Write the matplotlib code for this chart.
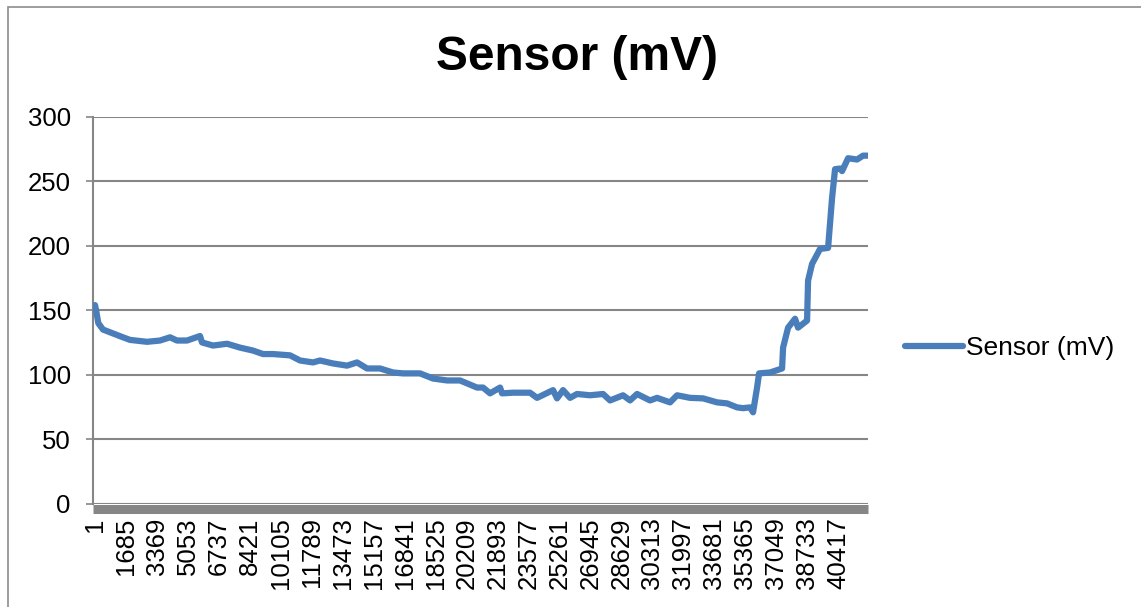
import numpy as np
import matplotlib
matplotlib.use("Agg")
import matplotlib.pyplot as plt
from matplotlib.patches import Rectangle

plt.rcParams['font.family'] = ['Liberation Sans', 'DejaVu Sans']

# sample index (category number) and sensor reading in mV
sample = [1, 60, 180, 436, 980, 1524, 1905, 2830, 3537, 4081, 4462, 5006,
          5713, 5822, 6420, 7182, 7889, 8596, 9140, 9684, 10609, 11153,
          11860, 12241, 12948, 13710, 14254, 14798, 15505, 16213, 16756,
          17681, 18388, 19150, 19857, 20782, 21108, 21489, 22033, 22142,
          22740, 23665, 24045, 24916, 25133, 25460, 25841, 26221, 26929,
          27636, 28017, 28724, 29105, 29486, 30193, 30574, 31281, 31662,
          32369, 33076, 33838, 34382, 34926, 35252, 35633, 35796, 36014,
          36123, 36721, 37374, 37429, 37701, 38081, 38244, 38734, 38788,
          39006, 39441, 39876, 40093, 40256, 40528, 40637, 40964, 41453,
          41780, 42048]
sensor_mv = [154, 150, 140, 135, 132, 129, 127, 125.5, 126.5, 129, 126.5,
             126.5, 130, 125, 122.6, 124, 121, 118.7, 116, 116, 115, 111,
             109.5, 111, 108.7, 107, 109.5, 104.8, 104.8, 101.7, 101, 101,
             97, 95.5, 95.5, 90, 90, 85.5, 90, 85.5, 86, 86, 82, 88, 81.6,
             88, 82, 85, 84, 85, 80, 84, 80, 85, 80, 82, 78.5, 84, 82, 81.6,
             78.5, 77.7, 74.6, 74, 74.6, 70.8, 90, 101, 101.7, 104.8, 121,
             136.5, 143.4, 136.5, 142, 173, 186, 197.6, 198.4, 237, 259.5,
             260, 258, 268, 267, 270, 270]

n_samples = 42048
tick_step = 1684
x_ticks = list(range(1, n_samples, tick_step))
y_ticks = [0, 50, 100, 150, 200, 250, 300]

W, H = 1141, 607
fig = plt.figure(figsize=(W / 100, H / 100), dpi=100)

# outer chart frame
fig.patches.append(Rectangle((8 / W, -0.1), 1.2, 1.1 - 7 / H, transform=fig.transFigure,
                             fill=False, edgecolor='#8c8c8c', linewidth=1.2))

ax = fig.add_axes([93 / W, 1 - 503.5 / H, (868 - 93) / W, (503.5 - 117) / H])
grey = '#868686'
blue = '#4a7ebb'

ax.plot(sample, sensor_mv, color=blue, linewidth=4.5, solid_capstyle='round',
        solid_joinstyle='round', label='Sensor (mV)', zorder=3)

ax.set_xlim(-108, n_samples)
ax.set_ylim(0, 300)
ax.set_yticks(y_ticks)
ax.set_xticks(x_ticks)
ax.set_xticklabels([str(t) for t in x_ticks])

ax.grid(axis='y', color=grey, linewidth=1.5)
ax.set_axisbelow(True)
for side in ['top', 'right']:
    ax.spines[side].set_visible(False)
ax.spines['left'].set_color(grey)
ax.spines['left'].set_linewidth(1.5)
ax.spines['bottom'].set_color(grey)
ax.spines['bottom'].set_linewidth(6.5)
ax.spines['bottom'].set_position(('outward', 4))
ax.spines['bottom'].set_capstyle('butt')

ax.tick_params(axis='y', length=5, width=1.2, color=grey, pad=11, labelsize=18.5)
ax.tick_params(axis='x', length=0, pad=6, labelsize=18.5, labelrotation=90)

fig.text(577 / W, 1 - 58 / H, 'Sensor (mV)', ha='center', va='center',
         fontsize=34.5, fontweight='bold')

fig.legend(loc='center left', bbox_to_anchor=(905 / W, 1 - 348 / H),
           frameon=False, fontsize=19, handlelength=2.2, handletextpad=0.1,
           borderpad=0, borderaxespad=0)

fig.savefig('out.png', dpi=100)
